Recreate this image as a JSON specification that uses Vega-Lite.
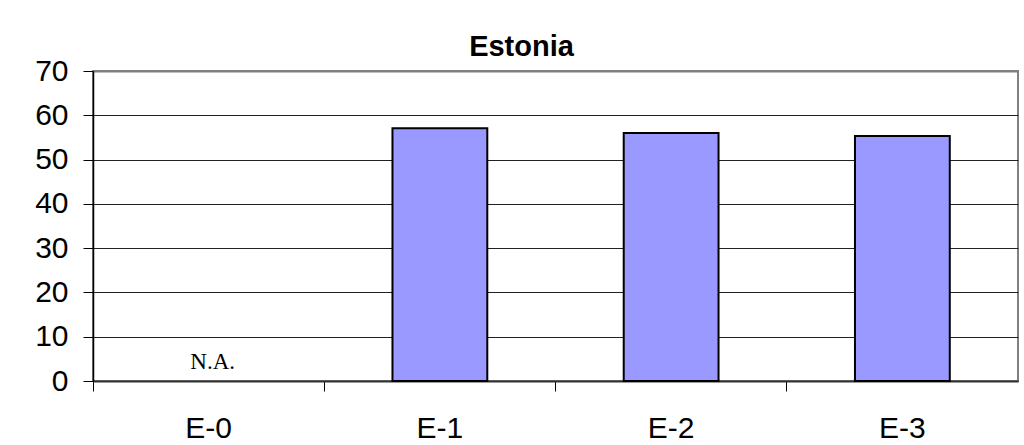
{
  "$schema": "https://vega.github.io/schema/vega-lite/v6.json",
  "width": 925,
  "height": 310,
  "autosize": {"type": "none"},
  "padding": {"left": 93, "top": 71, "right": 6, "bottom": 64},
  "background": "white",
  "config": {
    "font": "Liberation Sans",
    "view": {"stroke": "#808080", "strokeWidth": 2}
  },
  "title": {
    "text": "Estonia",
    "font": "Liberation Sans",
    "fontSize": 29,
    "fontWeight": "bold",
    "color": "black",
    "anchor": "middle",
    "frame": "group",
    "dx": -34,
    "dy": 18,
    "offset": 12
  },
  "data": {
    "values": [
      {"cat": "E-0", "value": null, "label": "N.A."},
      {"cat": "E-1", "value": 57.1, "label": ""},
      {"cat": "E-2", "value": 56.0, "label": ""},
      {"cat": "E-3", "value": 55.3, "label": ""}
    ]
  },
  "encoding": {
    "x": {
      "field": "cat",
      "type": "nominal",
      "sort": ["E-0", "E-1", "E-2", "E-3"],
      "scale": {"paddingInner": 0, "paddingOuter": 0},
      "axis": {
        "title": null,
        "labelAngle": 0,
        "labelFontSize": 30,
        "labelColor": "black",
        "labelPadding": 22,
        "labelFont": "Liberation Sans",
        "bandPosition": 0,
        "tickSize": 10,
        "tickColor": "black",
        "domainColor": "#333333",
        "domainWidth": 2,
        "grid": false
      }
    }
  },
  "layer": [
    {
      "mark": {"type": "bar", "fill": "#9999FF", "stroke": "black", "strokeWidth": 2, "width": {"band": 0.41}},
      "encoding": {
        "y": {
          "field": "value",
          "type": "quantitative",
          "scale": {"domain": [0, 70], "nice": false},
          "axis": {
            "title": null,
            "values": [0, 10, 20, 30, 40, 50, 60, 70],
            "labelFontSize": 30,
            "labelColor": "black",
            "labelFont": "Liberation Sans",
            "labelPadding": 15,
            "tickSize": 10,
            "tickColor": "black",
            "domainColor": "black",
            "domainWidth": 1.5,
            "grid": true,
            "gridColor": {"condition": {"test": "datum.value === 70", "value": "#808080"}, "value": "#222222"},
            "gridWidth": {"condition": {"test": "datum.value === 70", "value": 2}, "value": 1},
            "gridOpacity": 1
          }
        }
      }
    },
    {
      "transform": [{"filter": "datum.label !== ''"}],
      "mark": {"type": "text", "font": "Liberation Serif", "fontSize": 23, "color": "black", "baseline": "alphabetic", "dy": -12, "dx": 4},
      "encoding": {
        "y": {"datum": 0, "type": "quantitative"},
        "text": {"field": "label"}
      }
    }
  ]
}
